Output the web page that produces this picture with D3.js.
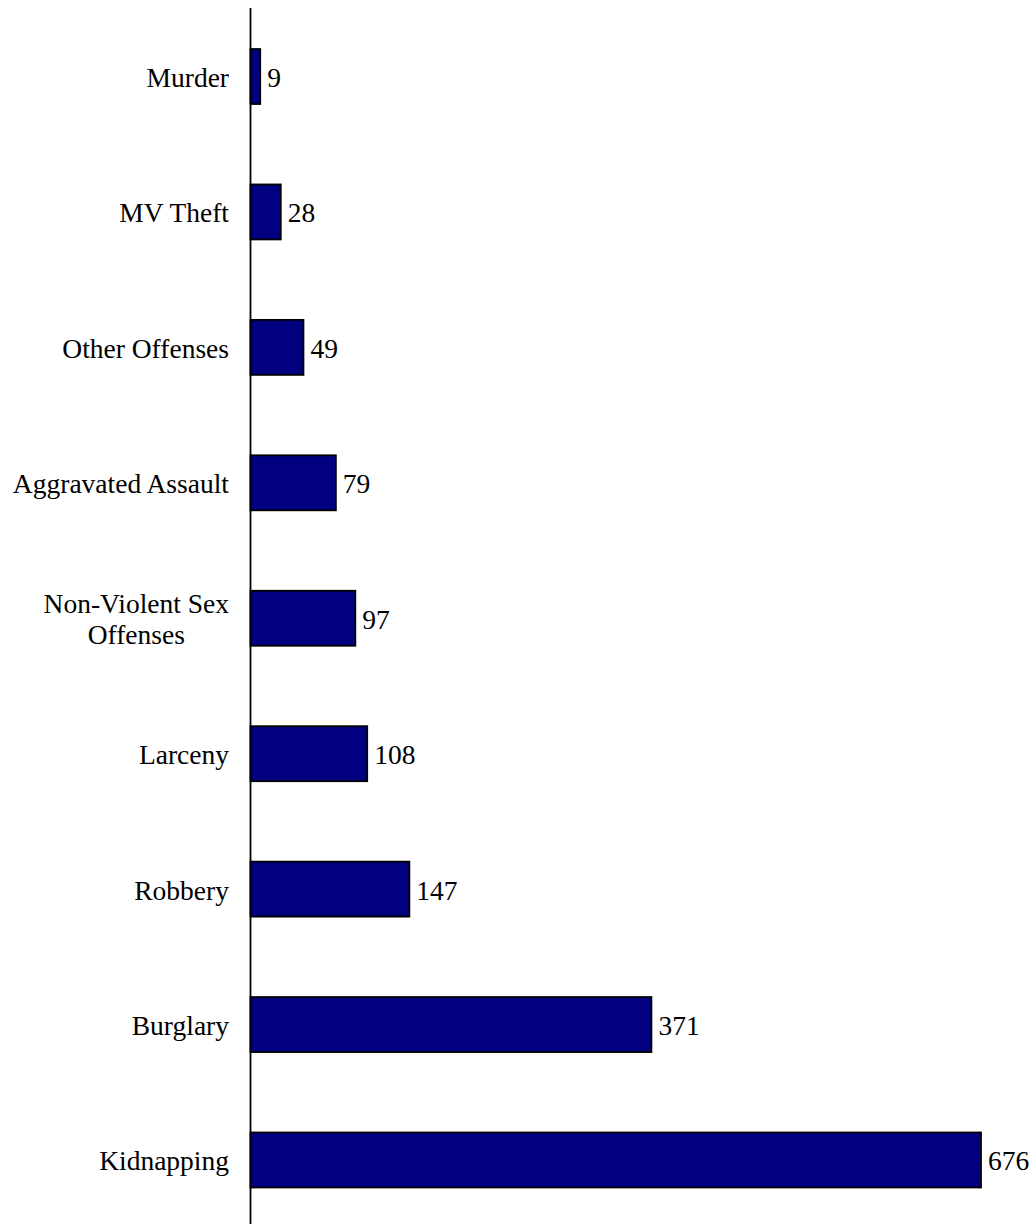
<!DOCTYPE html>
<html>
<head>
<meta charset="utf-8">
<script src="https://d3js.org/d3.v7.min.js"></script>
<style>
  html, body { margin: 0; padding: 0; background: #ffffff; }
  svg { display: block; }
  text { font-family: "Liberation Serif", "Times New Roman", serif; fill: #000; }
</style>
</head>
<body>
<svg id="chart" width="1036" height="1224"></svg>
<script>
const categories = [
  ["Murder"],
  ["MV Theft"],
  ["Other Offenses"],
  ["Aggravated Assault"],
  ["Non-Violent Sex", "Offenses"],
  ["Larceny"],
  ["Robbery"],
  ["Burglary"],
  ["Kidnapping"]
];
const values = [9, 28, 49, 79, 97, 108, 147, 371, 676];

const fontSize = 27.5;
const axisX = 250.5;
const svg = d3.select("#chart");

const keys = categories.map(c => c.join(" "));
const y = d3.scaleBand()
  .domain(keys)
  .range([8.8, 1227.7])
  .paddingInner(0.594)
  .paddingOuter(0.297);

const x = d3.scaleLinear()
  .domain([0, 676])
  .range([axisX, 981]);

// bars
svg.append("g")
  .selectAll("rect")
  .data(values)
  .join("rect")
  .attr("x", x(0))
  .attr("y", (d, i) => y(keys[i]))
  .attr("width", d => x(d) - x(0))
  .attr("height", y.bandwidth())
  .attr("fill", "#000080")
  .attr("stroke", "#000")
  .attr("stroke-width", 1.8);

// axis line
svg.append("line")
  .attr("x1", axisX).attr("x2", axisX)
  .attr("y1", 8).attr("y2", 1224)
  .attr("stroke", "#000")
  .attr("stroke-width", 1.8);

const baseOff = 10.5;

// value labels
svg.append("g")
  .selectAll("text")
  .data(values)
  .join("text")
  .attr("x", d => x(d) + 7)
  .attr("y", (d, i) => y(keys[i]) + y.bandwidth() / 2 + baseOff)
  .attr("font-size", fontSize)
  .text(d => d);

// category labels
const labelRight = 229;
const lineH = 31;
categories.forEach((lines, i) => {
  const cy = y(keys[i]) + y.bandwidth() / 2;
  const t = svg.append("text")
    .attr("font-size", fontSize);
  if (lines.length === 1) {
    t.attr("x", labelRight).attr("y", cy + baseOff)
      .attr("text-anchor", "end").text(lines[0]);
  } else {
    const tmp = svg.append("text").attr("font-size", fontSize);
    let maxW = 0;
    lines.forEach(l => { tmp.text(l); maxW = Math.max(maxW, tmp.node().getComputedTextLength()); });
    tmp.remove();
    const cx = labelRight - maxW / 2;
    t.attr("text-anchor", "middle");
    const startY = cy - (lines.length - 1) * lineH / 2;
    lines.forEach((l, j) => {
      t.append("tspan")
        .attr("x", cx)
        .attr("y", startY + j * lineH + baseOff)
        .text(l);
    });
  }
});
</script>
</body>
</html>
